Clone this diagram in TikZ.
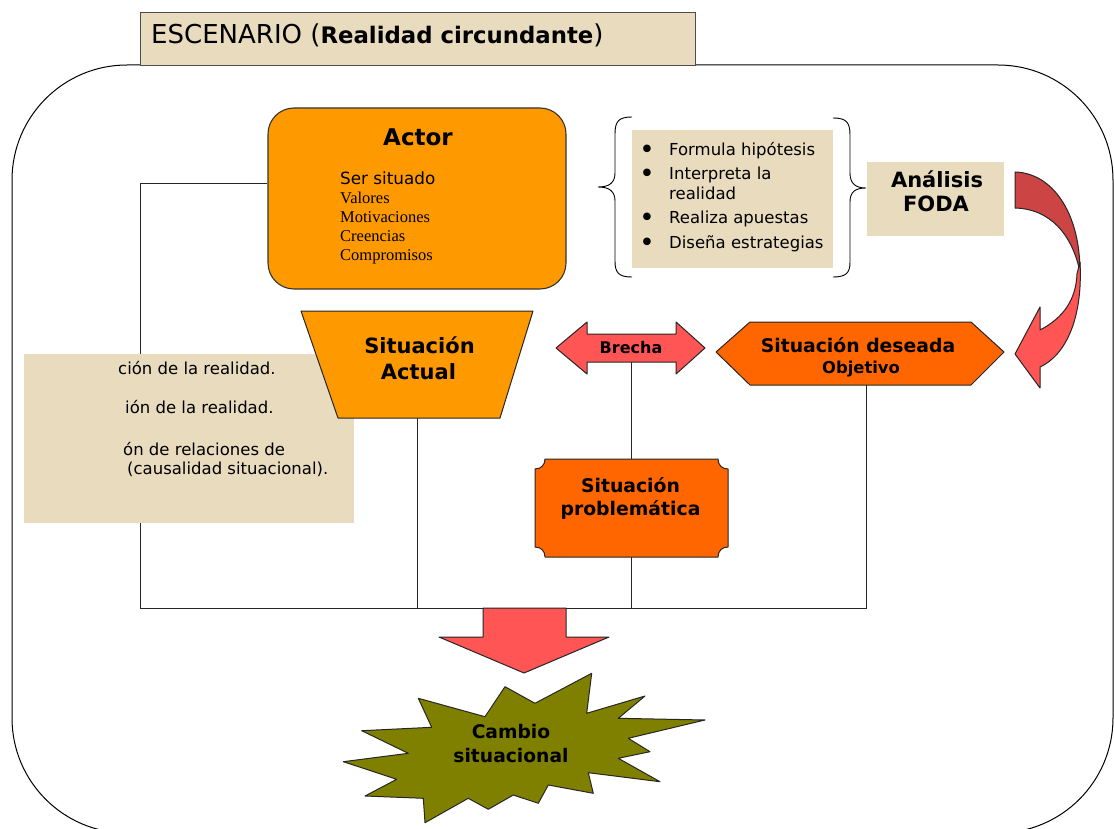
\documentclass[tikz,border=0pt]{standalone}
\usepackage{fontspec}
\setmainfont{DejaVu Sans}
\newfontfamily\tnr{Liberation Serif}
\newcommand\myfs[1]{\fontsize{#1}{#1}\selectfont}
\definecolor{parchment}{RGB}{233,219,190}
\definecolor{orangeA}{RGB}{255,153,0}
\definecolor{orangeB}{RGB}{255,102,0}
\definecolor{redA}{RGB}{255,85,85}
\definecolor{redB}{RGB}{204,68,68}
\definecolor{oliveA}{RGB}{128,128,0}
\begin{document}
\begin{tikzpicture}[x=1pt,y=-1pt,
  conn/.style={draw=black!85,line width=0.9pt},
  edgeline/.style={draw=black!85,line width=1pt,line join=round},
  parch/.style={fill=parchment},
  lbl/.style={inner sep=0pt,anchor=base},
  lblw/.style={inner sep=0pt,anchor=base west}]
\useasboundingbox (0,0) rectangle (1114,829);

% big frame
\draw[black,line width=1pt,rounded corners=115pt] (12,65) rectangle (1113,833);

% title box
\draw[parch,draw=black!70,line width=0.8pt] (140,12) rectangle (695,65);
\node[lblw] (esc) at (151,44) {\myfs{26}ESCENARIO (\textbf{\myfs{22.8}Realidad circundante})};

% coordinates of connectors
\coordinate (corner) at (140,183);
\coordinate (busL) at (140,608);
\coordinate (busR) at (866,608);
\coordinate (saB) at (417,418);
\coordinate (brB) at (631,362);
\coordinate (prT) at (631,459);
\coordinate (prB) at (631,557);
\coordinate (deB) at (866,385);

% Actor box
\node[draw=black!80,line width=1.1pt,fill=orangeA,rounded corners=26pt,
      minimum width=298pt,minimum height=181pt,inner sep=0pt] (actor) at (417,198.5) {};

% connectors
\draw[conn] (actor.west |- corner) -- (corner) -- (busL) -- (busR) -- (deB);
\draw[conn] (saB) -- (saB |- busL);
\draw[conn] (brB) -- (prT);
\draw[conn] (prB) -- (prB |- busL);

\node[lbl] (actorT) at (418,146) {\myfs{23}\bfseries Actor};
\node[lblw] (ser) at (340,185) {\myfs{16.8}Ser situado};
\node[lblw] (val) at (340,204) {\tnr\myfs{16.5}Valores};
\node[lblw] (mot) at (340,223) {\tnr\myfs{16.5}Motivaciones};
\node[lblw] (cre) at (340,242) {\tnr\myfs{16.5}Creencias};
\node[lblw] (com) at (340,261) {\tnr\myfs{16.5}Compromisos};

% braces and bullet box
\draw[black,line width=0.9pt] (632,117) .. controls (619,117) and (615,121) .. (615,134)
  -- (615,173) .. controls (615,183) and (609,187) .. (598,187)
  .. controls (609,187) and (615,191) .. (615,201) -- (615,261)
  .. controls (615,273) and (619,277) .. (632,277);
\draw[black,line width=0.9pt] (833,118) .. controls (846,118) and (850,122) .. (850,135)
  -- (850,173) .. controls (850,183) and (855,188) .. (866,188)
  .. controls (855,188) and (850,192) .. (850,202) -- (850,262)
  .. controls (850,273) and (846,277) .. (833,277);
\fill[parchment] (632,130) rectangle (833,268);
\foreach \n/\y in {b1/152,b2/176,b3/220,b4/245}
  \node[inner sep=0pt] (\n) at (647,\y) {\myfs{26}•};
\node[lblw] (l1) at (669,156) {\myfs{16.5}Formula hipótesis};
\node[lblw] (l2) at (669,180) {\myfs{16.5}Interpreta la};
\node[lblw] (l3) at (669,200) {\myfs{16.5}realidad};
\node[lblw] (l4) at (669,224) {\myfs{16.5}Realiza apuestas};
\node[lblw] (l5) at (669,248) {\myfs{16.5}Diseña estrategias};

% FODA box
\fill[parchment] (867,162) rectangle (1004,236);
\node[lbl] (foda1) at (937,188) {\myfs{21}\bfseries Análisis};
\node[lbl] (foda2) at (936,212) {\myfs{21}\bfseries FODA};

% curved arrow
\draw[edgeline,fill=redB] (1015,172) .. controls (1052,173) and (1080,212) .. (1080,272)
  .. controls (1072,234) and (1050,209) .. (1015,208) -- cycle;
\draw[edgeline,fill=redA] (1080,262) .. controls (1083,318) and (1066,355) .. (1040,367)
  -- (1040,388) -- (1015,354) -- (1040,307) -- (1040,330)
  .. controls (1063,318) and (1076,300) .. (1077,274) -- cycle;

% left parchment box
\fill[parchment] (24,354) rectangle (354,523);
\node[lblw] (p1) at (118,374) {\myfs{16.5}ción de la realidad.};
\node[lblw] (p2) at (125,413) {\myfs{16.5}ión de la realidad.};
\node[lblw] (p3) at (123,455) {\myfs{16.5}ón de relaciones de};
\node[lblw] (p4) at (127,474) {\myfs{16.5}(causalidad situacional).};

% Situacion actual trapezoid
\draw[edgeline,fill=orangeA] (301,311) -- (533,311) -- (500,418) -- (338,418) -- cycle;
\node[lbl] (sa1) at (419.5,353) {\myfs{21}\bfseries Situación};
\node[lbl] (sa2) at (418.5,379) {\myfs{21}\bfseries Actual};

% Brecha double arrow
\draw[edgeline,fill=redA] (556,348) -- (587,322) -- (587,334) -- (676,334) -- (676,322)
  -- (705,348) -- (676,374) -- (676,362) -- (587,362) -- (587,374) -- cycle;
\node[lbl] (brecha) at (631,353) {\myfs{16}\bfseries Brecha};

% Situacion deseada hexagon
\draw[edgeline,fill=orangeB] (716,352) -- (750,322) -- (971,322) -- (1004,352)
  -- (971,385) -- (750,385) -- cycle;
\node[lbl] (de1) at (858,352) {\myfs{18.8}\bfseries Situación deseada};
\node[lbl] (de2) at (861,373) {\myfs{16.4}\bfseries Objetivo};

% Situacion problematica plaque
\draw[edgeline,fill=orangeB] (545,459) -- (718,459) .. controls (718,465) and (722,469) .. (728,469)
  -- (728,547) .. controls (722,547) and (718,551) .. (718,557)
  -- (545,557) .. controls (545,551) and (541,547) .. (535,547)
  -- (535,469) .. controls (541,469) and (545,465) .. (545,459) -- cycle;
\node[lbl] (pr1) at (630.5,492) {\myfs{18.8}\bfseries Situación};
\node[lbl] (pr2) at (630.5,515) {\myfs{18.8}\bfseries problemática};

% down arrow
\draw[edgeline,fill=redA] (483,608) -- (566,608) -- (566,637) -- (609,637) -- (524,673)
  -- (439,637) -- (483,637) -- cycle;

% starburst
\draw[edgeline,fill=oliveA] (591.7,673.3) -- (586.7,713.3) -- (645,696) -- (618.3,718.3)
  -- (705,720) -- (628.3,738.3) -- (650,751.7) -- (618.3,758.3) -- (660,781.7)
  -- (588.3,772.7) -- (593.3,793.3) -- (548.3,785) -- (538.3,803.3) -- (513.3,795)
  -- (488.3,809.3) -- (468.3,798.3) -- (425,822.7) -- (423.3,798.3) -- (365,796)
  -- (396.7,779.3) -- (343.3,761.7) -- (408.3,753.3) -- (361.7,730.7) -- (431.7,727.3)
  -- (418.3,698.3) -- (485,716.7) -- (505,686.7) -- (535,703.3) -- cycle;
\node[lbl] (ca1) at (511,738) {\myfs{18.7}\bfseries Cambio};
\node[lbl] (ca2) at (511,762) {\myfs{18.7}\bfseries situacional};
\end{tikzpicture}
\end{document}
